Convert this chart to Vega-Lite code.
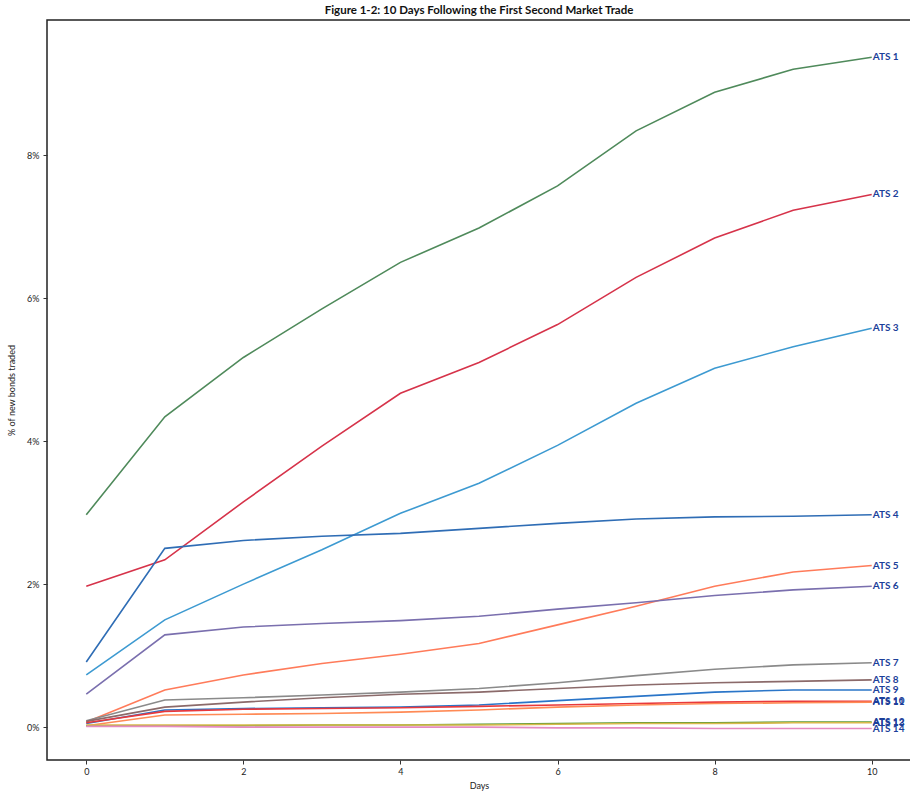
{
  "$schema": "https://vega.github.io/schema/vega-lite/v6.json",
  "autosize": {"type": "none"},
  "padding": {"left": 47, "top": 20, "right": 0, "bottom": 35},
  "width": 864,
  "height": 740,
  "background": "white",
  "title": {"text": "Figure 1-2: 10 Days Following the First Second Market Trade", "font": "Lato", "fontSize": 11.5, "fontWeight": "bold", "color": "#111", "anchor": "middle", "offset": 4},
  "config": {
    "view": {"stroke": "#222", "strokeWidth": 1.5},
    "axis": {"grid": false, "domain": false, "tickColor": "#333", "tickSize": 4, "labelFont": "Lato", "labelFontSize": 9, "labelColor": "#222", "titleFont": "Lato", "titleFontSize": 9, "titleFontWeight": "normal", "titleColor": "#222"}
  },
  "data": {"values": [
    {"ats":"ATS 1","day":0,"pct":2.97},{"ats":"ATS 1","day":1,"pct":4.34},{"ats":"ATS 1","day":2,"pct":5.17},{"ats":"ATS 1","day":3,"pct":5.85},{"ats":"ATS 1","day":4,"pct":6.5},{"ats":"ATS 1","day":5,"pct":6.98},{"ats":"ATS 1","day":6,"pct":7.57},{"ats":"ATS 1","day":7,"pct":8.34},{"ats":"ATS 1","day":8,"pct":8.88},{"ats":"ATS 1","day":9,"pct":9.2},{"ats":"ATS 1","day":10,"pct":9.37},
    {"ats":"ATS 2","day":0,"pct":1.97},{"ats":"ATS 2","day":1,"pct":2.34},{"ats":"ATS 2","day":2,"pct":3.15},{"ats":"ATS 2","day":3,"pct":3.93},{"ats":"ATS 2","day":4,"pct":4.67},{"ats":"ATS 2","day":5,"pct":5.1},{"ats":"ATS 2","day":6,"pct":5.63},{"ats":"ATS 2","day":7,"pct":6.29},{"ats":"ATS 2","day":8,"pct":6.84},{"ats":"ATS 2","day":9,"pct":7.23},{"ats":"ATS 2","day":10,"pct":7.45},
    {"ats":"ATS 3","day":0,"pct":0.73},{"ats":"ATS 3","day":1,"pct":1.5},{"ats":"ATS 3","day":2,"pct":2.0},{"ats":"ATS 3","day":3,"pct":2.48},{"ats":"ATS 3","day":4,"pct":2.99},{"ats":"ATS 3","day":5,"pct":3.41},{"ats":"ATS 3","day":6,"pct":3.94},{"ats":"ATS 3","day":7,"pct":4.53},{"ats":"ATS 3","day":8,"pct":5.02},{"ats":"ATS 3","day":9,"pct":5.32},{"ats":"ATS 3","day":10,"pct":5.58},
    {"ats":"ATS 4","day":0,"pct":0.91},{"ats":"ATS 4","day":1,"pct":2.5},{"ats":"ATS 4","day":2,"pct":2.61},{"ats":"ATS 4","day":3,"pct":2.67},{"ats":"ATS 4","day":4,"pct":2.71},{"ats":"ATS 4","day":5,"pct":2.78},{"ats":"ATS 4","day":6,"pct":2.85},{"ats":"ATS 4","day":7,"pct":2.91},{"ats":"ATS 4","day":8,"pct":2.94},{"ats":"ATS 4","day":9,"pct":2.95},{"ats":"ATS 4","day":10,"pct":2.97},
    {"ats":"ATS 5","day":0,"pct":0.07},{"ats":"ATS 5","day":1,"pct":0.52},{"ats":"ATS 5","day":2,"pct":0.73},{"ats":"ATS 5","day":3,"pct":0.89},{"ats":"ATS 5","day":4,"pct":1.02},{"ats":"ATS 5","day":5,"pct":1.17},{"ats":"ATS 5","day":6,"pct":1.43},{"ats":"ATS 5","day":7,"pct":1.69},{"ats":"ATS 5","day":8,"pct":1.97},{"ats":"ATS 5","day":9,"pct":2.17},{"ats":"ATS 5","day":10,"pct":2.26},
    {"ats":"ATS 6","day":0,"pct":0.46},{"ats":"ATS 6","day":1,"pct":1.29},{"ats":"ATS 6","day":2,"pct":1.4},{"ats":"ATS 6","day":3,"pct":1.45},{"ats":"ATS 6","day":4,"pct":1.49},{"ats":"ATS 6","day":5,"pct":1.55},{"ats":"ATS 6","day":6,"pct":1.65},{"ats":"ATS 6","day":7,"pct":1.74},{"ats":"ATS 6","day":8,"pct":1.84},{"ats":"ATS 6","day":9,"pct":1.92},{"ats":"ATS 6","day":10,"pct":1.97},
    {"ats":"ATS 7","day":0,"pct":0.09},{"ats":"ATS 7","day":1,"pct":0.38},{"ats":"ATS 7","day":2,"pct":0.41},{"ats":"ATS 7","day":3,"pct":0.45},{"ats":"ATS 7","day":4,"pct":0.49},{"ats":"ATS 7","day":5,"pct":0.54},{"ats":"ATS 7","day":6,"pct":0.62},{"ats":"ATS 7","day":7,"pct":0.72},{"ats":"ATS 7","day":8,"pct":0.81},{"ats":"ATS 7","day":9,"pct":0.87},{"ats":"ATS 7","day":10,"pct":0.9},
    {"ats":"ATS 8","day":0,"pct":0.08},{"ats":"ATS 8","day":1,"pct":0.28},{"ats":"ATS 8","day":2,"pct":0.35},{"ats":"ATS 8","day":3,"pct":0.41},{"ats":"ATS 8","day":4,"pct":0.46},{"ats":"ATS 8","day":5,"pct":0.49},{"ats":"ATS 8","day":6,"pct":0.54},{"ats":"ATS 8","day":7,"pct":0.59},{"ats":"ATS 8","day":8,"pct":0.62},{"ats":"ATS 8","day":9,"pct":0.64},{"ats":"ATS 8","day":10,"pct":0.66},
    {"ats":"ATS 9","day":0,"pct":0.05},{"ats":"ATS 9","day":1,"pct":0.24},{"ats":"ATS 9","day":2,"pct":0.26},{"ats":"ATS 9","day":3,"pct":0.27},{"ats":"ATS 9","day":4,"pct":0.28},{"ats":"ATS 9","day":5,"pct":0.31},{"ats":"ATS 9","day":6,"pct":0.37},{"ats":"ATS 9","day":7,"pct":0.43},{"ats":"ATS 9","day":8,"pct":0.49},{"ats":"ATS 9","day":9,"pct":0.52},{"ats":"ATS 9","day":10,"pct":0.52},
    {"ats":"ATS 10","day":0,"pct":0.06},{"ats":"ATS 10","day":1,"pct":0.22},{"ats":"ATS 10","day":2,"pct":0.25},{"ats":"ATS 10","day":3,"pct":0.26},{"ats":"ATS 10","day":4,"pct":0.27},{"ats":"ATS 10","day":5,"pct":0.29},{"ats":"ATS 10","day":6,"pct":0.31},{"ats":"ATS 10","day":7,"pct":0.33},{"ats":"ATS 10","day":8,"pct":0.35},{"ats":"ATS 10","day":9,"pct":0.36},{"ats":"ATS 10","day":10,"pct":0.36},
    {"ats":"ATS 11","day":0,"pct":0.02},{"ats":"ATS 11","day":1,"pct":0.17},{"ats":"ATS 11","day":2,"pct":0.18},{"ats":"ATS 11","day":3,"pct":0.19},{"ats":"ATS 11","day":4,"pct":0.21},{"ats":"ATS 11","day":5,"pct":0.24},{"ats":"ATS 11","day":6,"pct":0.28},{"ats":"ATS 11","day":7,"pct":0.31},{"ats":"ATS 11","day":8,"pct":0.33},{"ats":"ATS 11","day":9,"pct":0.34},{"ats":"ATS 11","day":10,"pct":0.35},
    {"ats":"ATS 12","day":0,"pct":0.02},{"ats":"ATS 12","day":1,"pct":0.02},{"ats":"ATS 12","day":2,"pct":0.02},{"ats":"ATS 12","day":3,"pct":0.03},{"ats":"ATS 12","day":4,"pct":0.03},{"ats":"ATS 12","day":5,"pct":0.04},{"ats":"ATS 12","day":6,"pct":0.05},{"ats":"ATS 12","day":7,"pct":0.06},{"ats":"ATS 12","day":8,"pct":0.06},{"ats":"ATS 12","day":9,"pct":0.07},{"ats":"ATS 12","day":10,"pct":0.07},
    {"ats":"ATS 13","day":0,"pct":0.03},{"ats":"ATS 13","day":1,"pct":0.03},{"ats":"ATS 13","day":2,"pct":0.03},{"ats":"ATS 13","day":3,"pct":0.03},{"ats":"ATS 13","day":4,"pct":0.03},{"ats":"ATS 13","day":5,"pct":0.03},{"ats":"ATS 13","day":6,"pct":0.04},{"ats":"ATS 13","day":7,"pct":0.05},{"ats":"ATS 13","day":8,"pct":0.05},{"ats":"ATS 13","day":9,"pct":0.06},{"ats":"ATS 13","day":10,"pct":0.06},
    {"ats":"ATS 14","day":0,"pct":0.01},{"ats":"ATS 14","day":1,"pct":0.01},{"ats":"ATS 14","day":2,"pct":0.0},{"ats":"ATS 14","day":3,"pct":0.0},{"ats":"ATS 14","day":4,"pct":0.0},{"ats":"ATS 14","day":5,"pct":0.0},{"ats":"ATS 14","day":6,"pct":-0.01},{"ats":"ATS 14","day":7,"pct":-0.01},{"ats":"ATS 14","day":8,"pct":-0.02},{"ats":"ATS 14","day":9,"pct":-0.02},{"ats":"ATS 14","day":10,"pct":-0.02}
  ]},
  "encoding": {
    "x": {"field": "day", "type": "quantitative", "scale": {"domain": [-0.5, 10.5], "nice": false, "zero": false}, "axis": {"values": [0, 2, 4, 6, 8, 10], "title": "Days", "titlePadding": 5, "labelPadding": 3}},
    "y": {"field": "pct", "type": "quantitative", "scale": {"domain": [-0.46, 9.89], "nice": false, "zero": false}, "axis": {"values": [0, 2, 4, 6, 8], "labelExpr": "datum.value + '%'", "title": "% of new bonds traded", "titlePadding": 10, "labelPadding": 4}}
  },
  "layer": [
    {
      "mark": {"type": "line", "strokeWidth": 1.6, "clip": true},
      "encoding": {
        "color": {"field": "ats", "type": "nominal", "legend": null, "scale": {
          "domain": ["ATS 1","ATS 2","ATS 3","ATS 4","ATS 5","ATS 6","ATS 7","ATS 8","ATS 9","ATS 10","ATS 11","ATS 12","ATS 13","ATS 14"],
          "range": ["#4f8a5b","#d6334a","#3d9ad1","#2f6db5","#ff7b5a","#7a6fae","#8a8a8a","#8b6a6a","#2a75c8","#e8383c","#ff8a55","#5a9a3a","#d8b94a","#e58ac0"]}},
        "detail": {"field": "ats"}
      }
    },
    {
      "transform": [{"filter": "datum.day == 10"}],
      "mark": {"type": "text", "align": "left", "baseline": "middle", "dx": 1, "font": "Lato", "fontSize": 10, "fontWeight": "bold", "color": "#1c3f9a"},
      "encoding": {"text": {"field": "ats"}}
    }
  ]
}
